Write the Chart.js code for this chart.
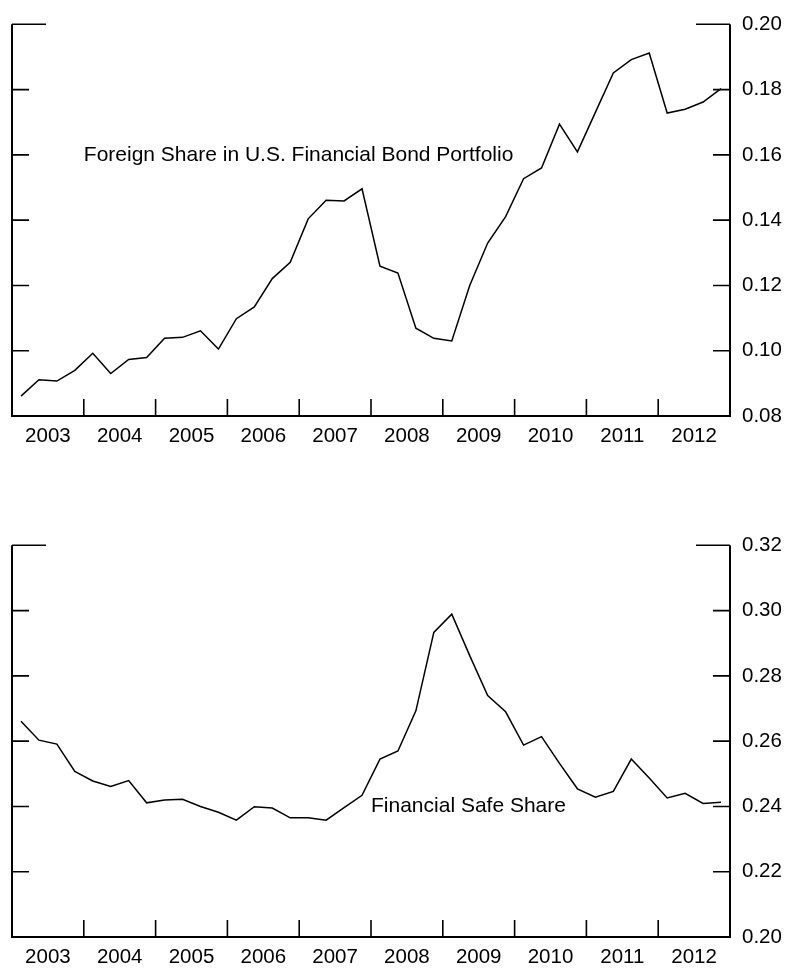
<!DOCTYPE html>
<html>
<head>
<meta charset="utf-8">
<script src="https://cdn.jsdelivr.net/npm/chart.js@4/dist/chart.umd.min.js"></script>
<style>
  body { margin: 0; background: #fff; }
  canvas { display: block; }
</style>
</head>
<body>
<canvas id="bondChart" width="788" height="521"></canvas>
<canvas id="safeChart" width="788" height="448"></canvas>
<script>
// quarterly data, 2003Q1 .. 2012Q4
var years = ['2003', '2004', '2005', '2006', '2007', '2008', '2009', '2010', '2011', '2012'];
var quarters = [];
years.forEach(function(y) { ['Q1', 'Q2', 'Q3', 'Q4'].forEach(function(q) { quarters.push(y + q); }); });

var foreignShare = [
  0.0861, 0.0911, 0.0907, 0.0940, 0.0992, 0.0930, 0.0973, 0.0979,
  0.1038, 0.1041, 0.1061, 0.1005, 0.1098, 0.1134, 0.1221, 0.1271,
  0.1404, 0.1461, 0.1459, 0.1496, 0.1259, 0.1238, 0.1069, 0.1038,
  0.1030, 0.1200, 0.1330, 0.1411, 0.1527, 0.1560, 0.1694, 0.1609,
  0.1730, 0.1851, 0.1892, 0.1912, 0.1728, 0.1740, 0.1762, 0.1803
];
var safeShare = [
  0.2661, 0.2603, 0.2591, 0.2507, 0.2478, 0.2461, 0.2479, 0.2411,
  0.2420, 0.2422, 0.2400, 0.2382, 0.2358, 0.2399, 0.2395, 0.2365,
  0.2365, 0.2358, 0.2396, 0.2434, 0.2545, 0.2570, 0.2693, 0.2933,
  0.2989, 0.2862, 0.2740, 0.2690, 0.2588, 0.2614, 0.2532, 0.2454,
  0.2428, 0.2446, 0.2545, 0.2487, 0.2426, 0.2440, 0.2409, 0.2413
];

var bondTicks = [0.08, 0.10, 0.12, 0.14, 0.16, 0.18, 0.20];
var safeTicks = [0.20, 0.22, 0.24, 0.26, 0.28, 0.30, 0.32];

var FONT = '"Liberation Sans", Arial, sans-serif';

// frame, inward tick marks and the series caption
var framePlugin = {
  id: 'frame',
  afterDraw: function(chart, args, opts) {
    var ctx = chart.ctx, a = chart.chartArea;
    var xs = chart.scales.x, ys = chart.scales.y;
    ctx.save();
    ctx.strokeStyle = '#000';
    ctx.lineWidth = 2;
    ctx.beginPath();
    ctx.moveTo(a.left, a.top); ctx.lineTo(a.left, a.bottom); ctx.lineTo(a.right, a.bottom); ctx.lineTo(a.right, a.top);
    ctx.stroke();
    ctx.lineWidth = 1.6;
    ctx.beginPath();
    opts.ticks.forEach(function(v, i) {
      if (i === 0) return;
      var y = ys.getPixelForValue(v);
      var len = (i === opts.ticks.length - 1) ? 34 : 17;
      ctx.moveTo(a.left, y); ctx.lineTo(a.left + len, y);
      ctx.moveTo(a.right - len, y); ctx.lineTo(a.right, y);
    });
    for (var q = 4; q < quarters.length; q += 4) {
      var x = xs.getPixelForValue(q);
      ctx.moveTo(x, a.bottom); ctx.lineTo(x, a.bottom - 17);
    }
    ctx.stroke();
    ctx.fillStyle = '#000';
    ctx.font = '21px ' + FONT;
    ctx.textAlign = 'left';
    ctx.textBaseline = 'middle';
    ctx.fillText(opts.label, xs.getPixelForValue(opts.labelAt[0]), ys.getPixelForValue(opts.labelAt[1]));
    ctx.restore();
  }
};

function makePanel(id, values, ticks, label, labelAt, canvasH) {
  var ctx = document.getElementById(id).getContext('2d');
  return new Chart(ctx, {
    type: 'line',
    data: {
      labels: quarters,
      datasets: [{
        data: values.map(function(v, i) { return { x: i + 0.5, y: v }; }),
        borderColor: '#000',
        borderWidth: 1.5,
        pointRadius: 0,
        tension: 0,
        fill: false
      }]
    },
    options: {
      responsive: false,
      animation: false,
      layout: { padding: { left: 12, top: 21, right: 0, bottom: 0 } },
      plugins: {
        legend: { display: false },
        tooltip: { enabled: false },
        frame: { ticks: ticks, label: label, labelAt: labelAt }
      },
      scales: {
        x: {
          type: 'linear',
          min: 0,
          max: quarters.length,
          grid: { display: false, drawTicks: false },
          border: { display: false },
          afterBuildTicks: function(scale) {
            scale.ticks = years.map(function(y, i) { return { value: i * 4 + 2 }; });
          },
          afterFit: function(scale) { scale.height = canvasH - 416; },
          ticks: {
            autoSkip: false,
            maxRotation: 0,
            padding: 8,
            color: '#000',
            font: { family: FONT, size: 20.5 },
            callback: function(v, i) { return years[i]; }
          }
        },
        y: {
          position: 'right',
          min: ticks[0],
          max: ticks[ticks.length - 1],
          grid: { display: false, drawTicks: false },
          border: { display: false },
          afterBuildTicks: function(scale) {
            scale.ticks = ticks.map(function(v) { return { value: v }; });
          },
          afterFit: function(scale) { scale.width = 58; },
          ticks: {
            padding: 12,
            color: '#000',
            font: { family: FONT, size: 20.5 },
            callback: function(v) { return v.toFixed(2); }
          }
        }
      }
    },
    plugins: [framePlugin]
  });
}

makePanel('bondChart', foreignShare, bondTicks, 'Foreign Share in U.S. Financial Bond Portfolio', [4, 0.16], 521);
makePanel('safeChart', safeShare, safeTicks, 'Financial Safe Share', [20, 0.24], 448);
</script>
</body>
</html>
